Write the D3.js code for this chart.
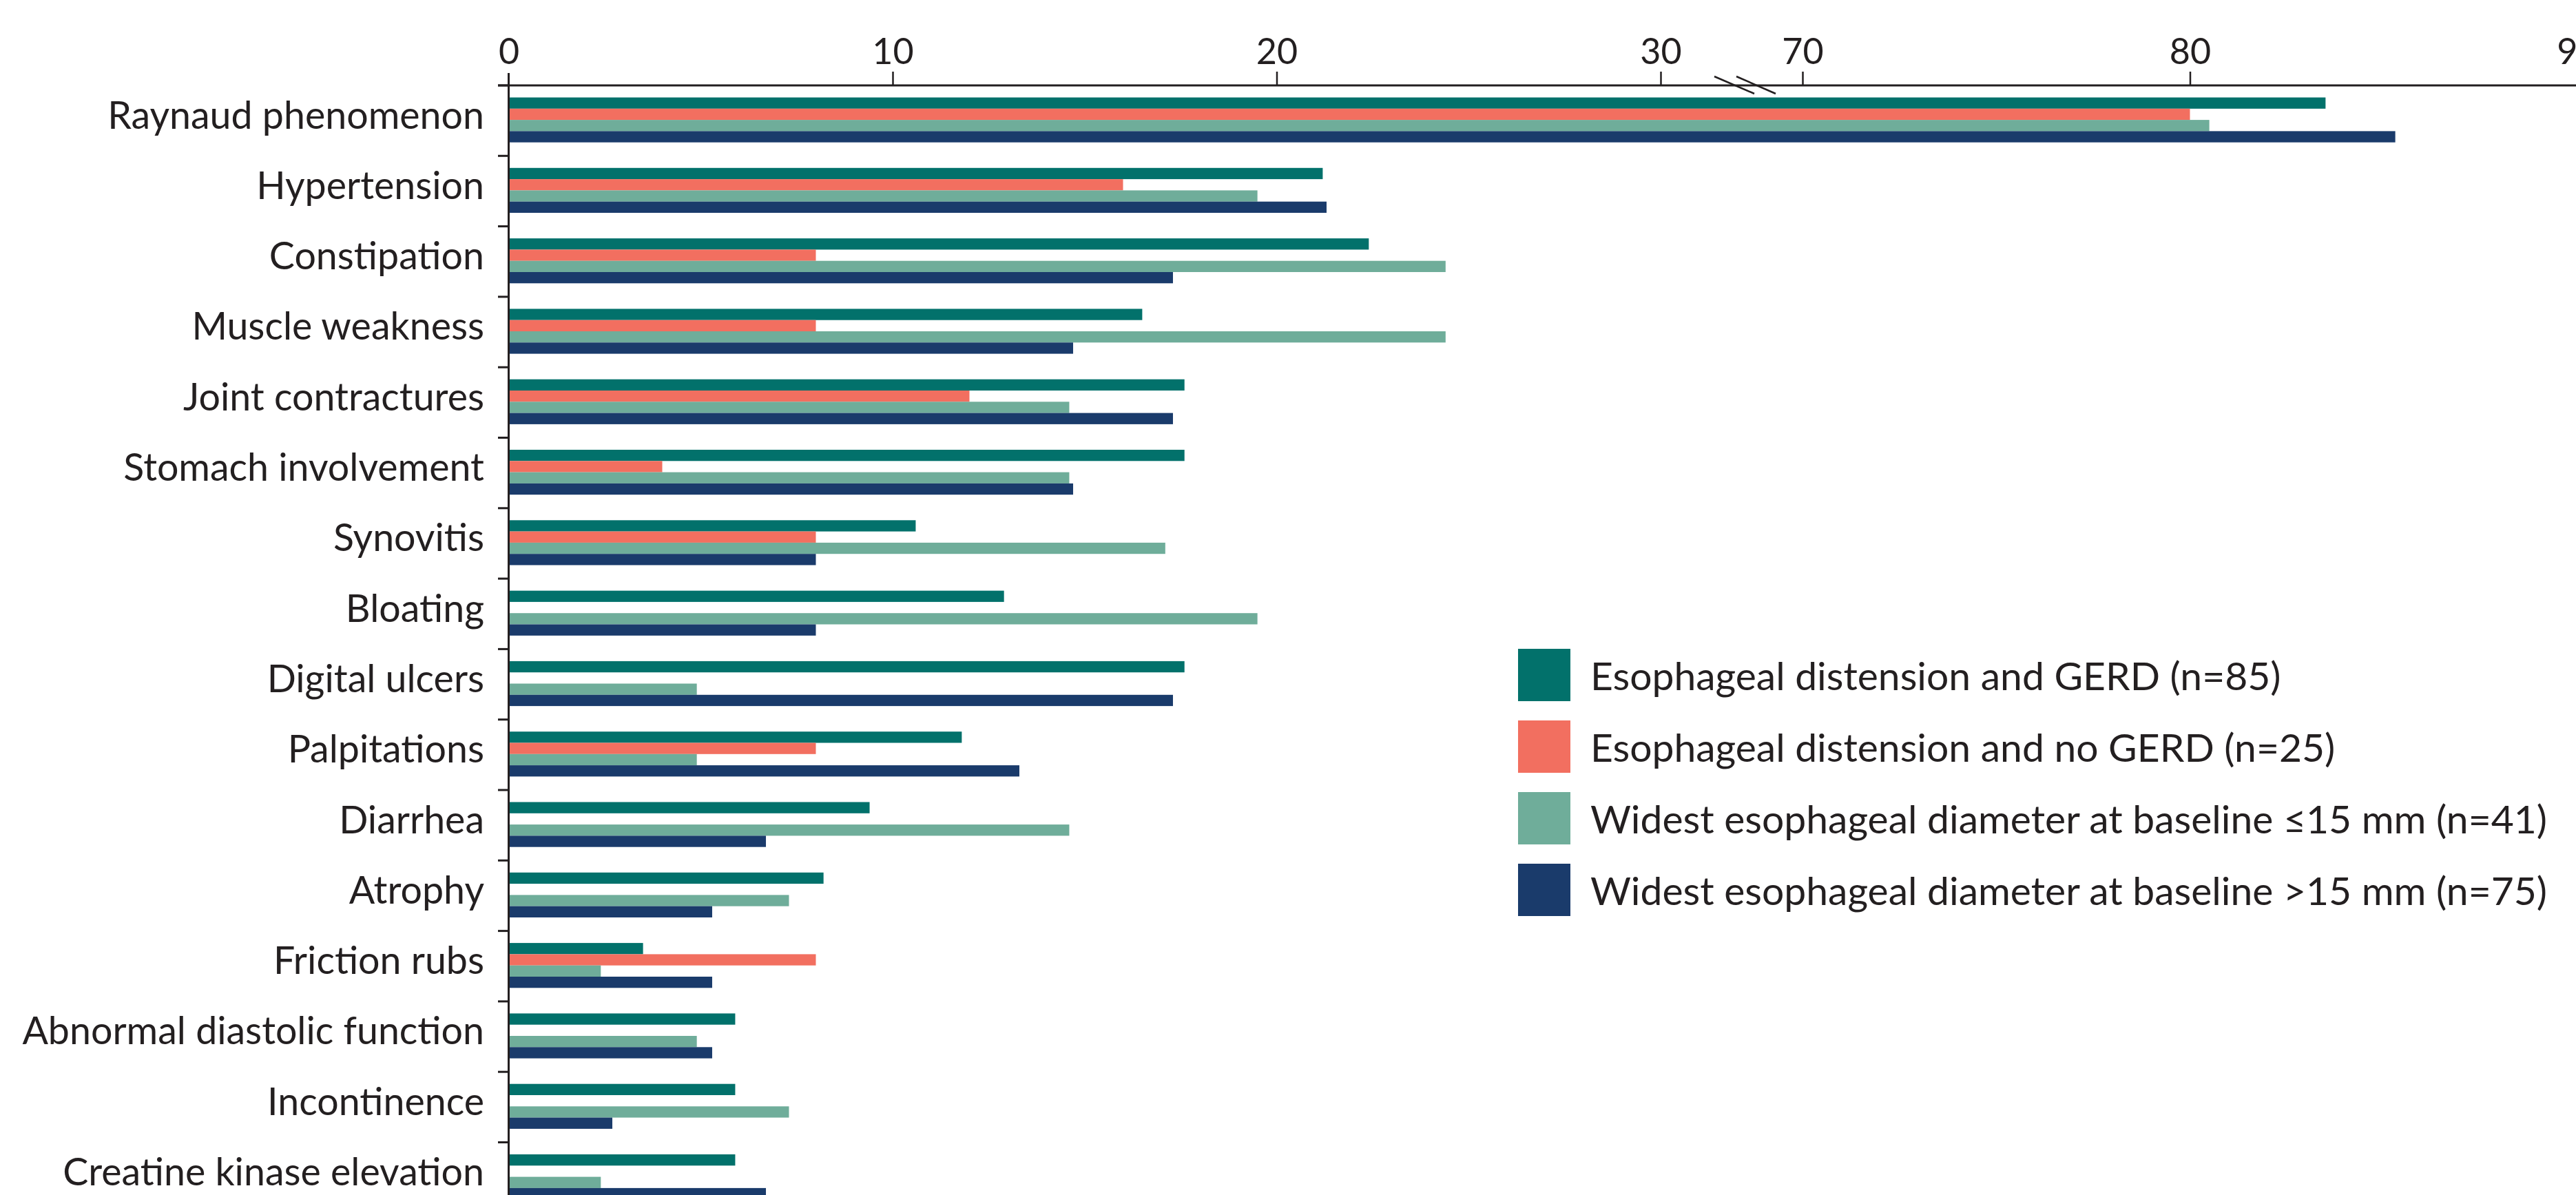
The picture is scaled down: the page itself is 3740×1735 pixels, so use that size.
<!DOCTYPE html>
<html>
<head>
<meta charset="utf-8">
<script src="https://cdn.jsdelivr.net/npm/d3@7/dist/d3.min.js"></script>
<style>
  html, body { margin: 0; padding: 0; background: #ffffff; }
  svg { display: block; }
  text { font-family: Lato, "Open Sans", sans-serif; fill: #231F20; }
</style>
</head>
<body>
<svg id="chart" width="3740" height="1735"></svg>
<script>
// ---- Data (percent of patients) ----
const categories = [
  "Raynaud phenomenon", "Hypertension", "Constipation", "Muscle weakness",
  "Joint contractures", "Stomach involvement", "Synovitis", "Bloating",
  "Digital ulcers", "Palpitations", "Diarrhea", "Atrophy", "Friction rubs",
  "Abnormal diastolic function", "Incontinence", "Creatine kinase elevation"
];
const seriesNames = [
  "Esophageal distension and GERD (n=85)",
  "Esophageal distension and no GERD (n=25)",
  "Widest esophageal diameter at baseline \u226415 mm (n=41)",
  "Widest esophageal diameter at baseline >15 mm (n=75)"
];
const distensionGerd   = [83.5, 21.2, 22.4, 16.5, 17.6, 17.6, 10.6, 12.9, 17.6, 11.8, 9.4, 8.2, 3.5, 5.9, 5.9, 5.9];
const distensionNoGerd = [80, 16, 8, 8, 12, 4, 8, 0, 0, 8, 0, 0, 8, 0, 0, 0];
const diameterLe15     = [80.5, 19.5, 24.4, 24.4, 14.6, 14.6, 17.1, 19.5, 4.9, 4.9, 14.6, 7.3, 2.4, 4.9, 7.3, 2.4];
const diameterGt15     = [85.3, 21.3, 17.3, 14.7, 17.3, 14.7, 8.0, 8.0, 17.3, 13.3, 6.7, 5.3, 5.3, 5.3, 2.7, 6.7];
const xTickValues = [0, 10, 20, 30, 70, 80, 90];
const colors = ["#02716B", "#F26F60", "#6FAD9A", "#1A3B6B"];

const seriesValues = [distensionGerd, distensionNoGerd, diameterLe15, diameterGt15];

// ---- Layout ----
const W = 3740, H = 1735;
const axisY = 124;
const axisX = 738.5;
const bandStep = 102.3;

const svg = d3.select("#chart");
svg.append("rect").attr("width", W).attr("height", H).attr("fill", "#fff");

// broken x scale: 0-30 then 70-90
const x = d3.scaleLinear()
  .domain([0, 30, 70, 90])
  .range([axisX, 2411, 2617, 3742]);

const y = d3.scaleBand()
  .domain(categories)
  .range([axisY, axisY + bandStep * categories.length])
  .paddingInner(0).paddingOuter(0);

const ySub = d3.scaleBand()
  .domain(d3.range(seriesValues.length))
  .range([17.5, 17.5 + 16.3 * 4]);

// ---- Bars ----
const rows = categories.map((c, i) => ({ cat: c, vals: seriesValues.map(s => s[i]) }));
const groups = svg.append("g").selectAll("g")
  .data(rows).join("g")
  .attr("transform", d => `translate(0,${y(d.cat)})`);
groups.selectAll("rect")
  .data(d => d.vals.map((v, k) => ({ v, k })).filter(e => e.v > 0))
  .join("rect")
  .attr("x", x(0))
  .attr("y", e => ySub(e.k))
  .attr("width", e => x(e.v) - x(0))
  .attr("height", ySub.bandwidth())
  .attr("fill", e => colors[e.k]);

// ---- X axis (top) ----
const xAxis = d3.axisTop(x).tickValues(xTickValues).tickSize(20).tickSizeOuter(0).tickPadding(11.5)
  .tickFormat(d3.format("d"));
const gx = svg.append("g").attr("transform", `translate(0,${axisY})`).call(xAxis);
gx.select(".domain").remove();
gx.selectAll(".tick line").attr("stroke", "#231F20").attr("stroke-width", 2.5);
gx.selectAll(".tick text").attr("font-size", 52).attr("fill", "#231F20")
  .style("font-family", "Lato, 'Open Sans', sans-serif");
gx.selectAll(".tick").filter(d => d === 0).select("line").remove();

// axis line
svg.append("line")
  .attr("x1", 723).attr("x2", W).attr("y1", axisY).attr("y2", axisY)
  .attr("stroke", "#231F20").attr("stroke-width", 3);

// break marks
const bx = x(30);
[[78, 136], [110, 167]].forEach(([a, b]) => {
  svg.append("line")
    .attr("x1", bx + a).attr("y1", axisY - 13)
    .attr("x2", bx + b).attr("y2", axisY + 12)
    .attr("stroke", "#231F20").attr("stroke-width", 2.5);
});

// ---- Y axis ----
svg.append("line")
  .attr("x1", axisX).attr("x2", axisX).attr("y1", 106).attr("y2", H)
  .attr("stroke", "#231F20").attr("stroke-width", 3);
svg.append("g").selectAll("line")
  .data(categories).join("line")
  .attr("x1", 723).attr("x2", axisX)
  .attr("y1", d => y(d)).attr("y2", d => y(d))
  .attr("stroke", "#231F20").attr("stroke-width", 3);
svg.append("g").selectAll("text")
  .data(categories).join("text")
  .attr("x", 703)
  .attr("y", d => y(d) + 62.5)
  .attr("text-anchor", "end")
  .attr("font-size", 55.5)
  .text(d => d);

// ---- Legend ----
const legend = svg.append("g").attr("transform", "translate(2204,942)");
const li = legend.selectAll("g").data(seriesNames).join("g")
  .attr("transform", (d, i) => `translate(0,${i * 104})`);
li.append("rect").attr("width", 76).attr("height", 76).attr("fill", (d, i) => colors[i]);
li.append("text").attr("x", 105).attr("y", 60).attr("font-size", 57).text(d => d);
</script>
</body>
</html>
